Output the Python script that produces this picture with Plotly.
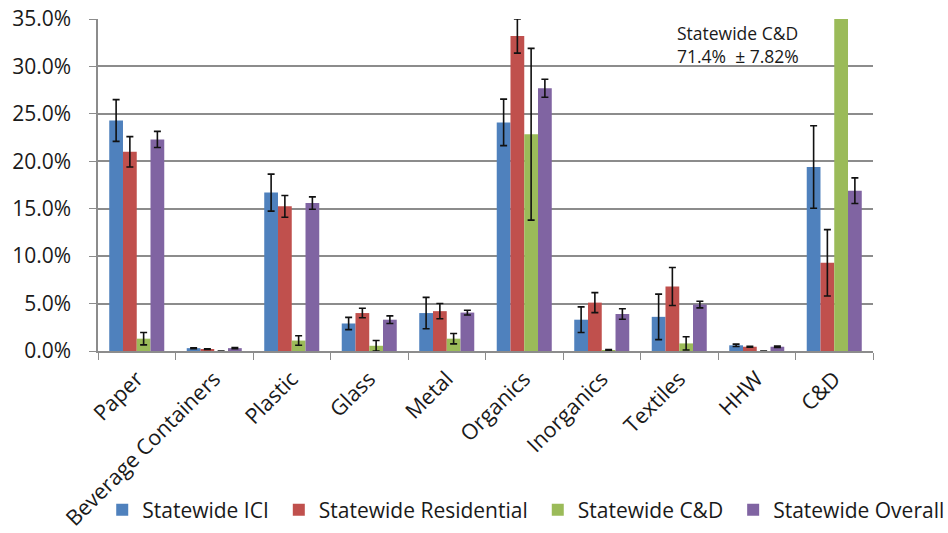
import plotly.graph_objects as go

categories = ["Paper", "Beverage Containers", "Plastic", "Glass", "Metal",
              "Organics", "Inorganics", "Textiles", "HHW", "C&D"]

ici = [24.3, 0.3, 16.7, 2.9, 4.0, 24.1, 3.3, 3.6, 0.6, 19.4]
ici_err = [2.2, 0.05, 1.95, 0.65, 1.65, 2.45, 1.35, 2.4, 0.12, 4.35]

residential = [21.0, 0.2, 15.25, 4.0, 4.2, 33.2, 5.1, 6.8, 0.45, 9.3]
residential_err = [1.6, 0.04, 1.15, 0.5, 0.8, 1.8, 1.05, 2.0, 0.05, 3.5]

cnd = [1.3, 0.0, 1.1, 0.55, 1.3, 22.85, 0.1, 0.8, 0.0, 71.4]
cnd_err = [0.65, 0.0, 0.5, 0.55, 0.55, 9.05, 0.05, 0.7, 0.0, 7.82]

overall = [22.3, 0.3, 15.6, 3.3, 4.05, 27.7, 3.9, 4.9, 0.45, 16.9]
overall_err = [0.85, 0.07, 0.65, 0.4, 0.25, 0.95, 0.55, 0.35, 0.07, 1.35]

series = [
    ("Statewide ICI", ici, ici_err, "#4F81BD"),
    ("Statewide Residential", residential, residential_err, "#C0504D"),
    ("Statewide C&D", cnd, cnd_err, "#9BBB59"),
    ("Statewide Overall", overall, overall_err, "#8064A2"),
]

FONT = "Open Sans"
TXT = "#1a1a1a"

fig = go.Figure()
for name, vals, errs, color in series:
    fig.add_trace(go.Bar(
        name=name, x=categories, y=vals,
        marker=dict(color=color, line=dict(width=0)),
        error_y=dict(type="data", array=errs, visible=True,
                     color="#111111", thickness=1.6, width=3.5),
    ))

fig.update_layout(
    width=948, height=533,
    paper_bgcolor="white", plot_bgcolor="white",
    margin=dict(l=98, r=75, t=19, b=182, autoexpand=False),
    barmode="group", bargap=0.29, bargroupgap=0,
    font=dict(family=FONT, size=20, color=TXT),
    showlegend=True,
    legend=dict(orientation="h", x=-0.001, xanchor="left",
                y=-0.479, yanchor="middle", indentation=5,
                bgcolor="rgba(0,0,0,0)",
                font=dict(family=FONT, size=21, color=TXT),
                itemwidth=30, tracegroupgap=0),
    annotations=[dict(
        x=0.745, y=1.0, xref="paper", yref="paper",
        xanchor="left", yanchor="top", align="left", showarrow=False,
        text="Statewide C&D<br>71.4%  ± 7.82%",
        font=dict(family=FONT, size=17.5, color=TXT),
    )],
)

fig.update_yaxes(
    range=[0, 35], dtick=5, tickformat=".1f", ticksuffix="%",
    showgrid=True, gridcolor="#8c8c8c", gridwidth=1.5,
    showline=True, linecolor="#8c8c8c", linewidth=1.5,
    ticks="outside", ticklen=7, tickcolor="#8c8c8c",
    ticklabelstandoff=14,
    tickfont=dict(family=FONT, size=21, color=TXT),
    zeroline=False, automargin=False,
)
fig.update_xaxes(
    tickangle=-45, tickson="boundaries",
    showline=True, linecolor="#8c8c8c", linewidth=1.5,
    ticks="outside", ticklen=7, tickcolor="#8c8c8c",
    ticklabelstandoff=5,
    tickfont=dict(family=FONT, size=21.5, color=TXT),
    automargin=False,
)

fig.write_html("out.html", config={"displayModeBar": False},
               post_script="document.body.style.margin='0';document.body.style.overflow='hidden';")
